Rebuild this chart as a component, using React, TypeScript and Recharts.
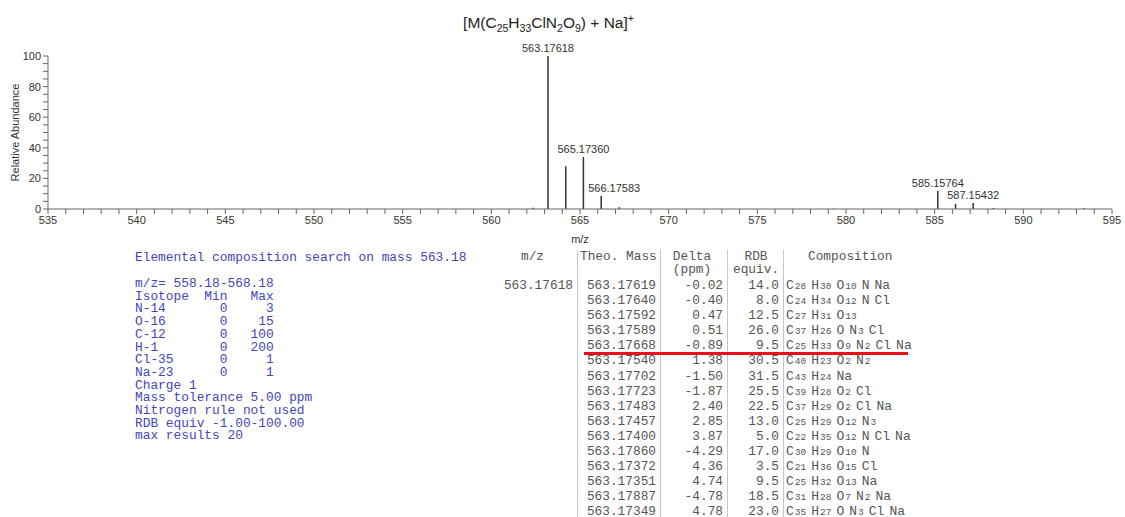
import React from "react";
import { BarChart, Bar, XAxis, YAxis, LabelList } from "recharts";

// spectrum peaks
const peakMz = [562.34, 563.17618, 564.179, 565.1736, 566.17583, 567.2, 579.3, 585.15764, 586.16, 587.15432, 588.3, 593.4];
const peakAbundance = [0.8, 100, 28, 34, 8.5, 1.2, 0.4, 12, 3.3, 4, 0.7, 0.5];
const peakLabels = ["", "563.17618", "", "565.17360", "566.17583", "", "", "585.15764", "", "587.15432", "", ""];

const xLabelTicks = [535, 540, 545, 550, 555, 560, 565, 570, 575, 580, 585, 590, 595];
const yLabelTicks = [0, 20, 40, 60, 80, 100];

// search parameters (left block)
const searchLines = [
  "m/z= 558.18-568.18",
  "Isotope  Min   Max",
  "N-14       0     3",
  "O-16       0    15",
  "C-12       0   100",
  "H-1        0   200",
  "Cl-35      0     1",
  "Na-23      0     1",
  "Charge 1",
  "Mass tolerance 5.00 ppm",
  "Nitrogen rule not used",
  "RDB equiv -1.00-100.00",
  "max results 20",
];

// candidate table
const theoMass = [
  "563.17619", "563.17640", "563.17592", "563.17589", "563.17668", "563.17540", "563.17702", "563.17723",
  "563.17483", "563.17457", "563.17400", "563.17860", "563.17372", "563.17351", "563.17887", "563.17349",
];
const deltaPpm = [
  "-0.02", "-0.40", "0.47", "0.51", "-0.89", "1.38", "-1.50", "-1.87",
  "2.40", "2.85", "3.87", "-4.29", "4.36", "4.74", "-4.78", "4.78",
];
const rdbEquiv = [
  "14.0", "8.0", "12.5", "26.0", "9.5", "30.5", "31.5", "25.5",
  "22.5", "13.0", "5.0", "17.0", "3.5", "9.5", "18.5", "23.0",
];
const compositions = [
  "C28 H30 O10 N Na", "C24 H34 O12 N Cl", "C27 H31 O13", "C37 H26 O N3 Cl",
  "C25 H33 O9 N2 Cl Na", "C40 H23 O2 N2", "C43 H24 Na", "C39 H28 O2 Cl",
  "C37 H29 O2 Cl Na", "C25 H29 O12 N3", "C22 H35 O12 N Cl Na", "C30 H29 O10 N",
  "C21 H36 O15 Cl", "C25 H32 O13 Na", "C31 H28 O7 N2 Na", "C35 H27 O N3 Cl Na",
];
const selectedRow = 4;

const chartData = peakMz.map((mz, i) => ({ mz, abundance: peakAbundance[i], label: peakLabels[i] }));
const xMinorTicks = Array.from({ length: 61 }, (_, i) => 535 + i);
const yMinorTicks = Array.from({ length: 21 }, (_, i) => i * 5);

const labelNudge: Record<string, number> = { "566.17583": 13 };

const mono = "'Liberation Mono', 'Courier New', monospace";
const sans = "'Liberation Sans', Arial, sans-serif";
const tableColor = "#555";
const rowH = 15.1;

const PeakLabel = (props: any) => {
  const { x, y, width, value } = props;
  if (!value) return null;
  return (
    <text x={x + width / 2 + (labelNudge[value] || 0)} y={y - 4} textAnchor="middle" fontSize={11} fill="#333" fontFamily={sans}>
      {value}
    </text>
  );
};

const Formula = ({ text }: { text: string }) => (
  <span>
    {text.split(" ").map((part, i) => {
      const m = part.match(/^([A-Za-z]+)(\d*)$/);
      const el = m ? m[1] : part;
      const n = m ? m[2] : "";
      return (
        <span key={i} style={{ marginRight: 5 }}>
          <span style={{ fontSize: 13 }}>{el}</span>
          {n && <span style={{ fontSize: 9.5, marginLeft: 1 }}>{n}</span>}
        </span>
      );
    })}
  </span>
);

const Column = ({ left, width, lines, align = "right" }: any) => (
  <div
    style={{
      position: "absolute",
      left,
      top: 278,
      width,
      textAlign: align,
      whiteSpace: "pre",
      lineHeight: `${rowH}px`,
      fontFamily: mono,
      fontSize: 12.8,
      color: tableColor,
    }}
  >
    {lines.map((l: any, i: number) => (
      <div key={i} style={{ height: rowH }}>{l}</div>
    ))}
  </div>
);

export default function App() {
  return (
    <div style={{ position: "absolute", left: 0, top: 0, width: 1125, height: 517, background: "#fff", overflow: "hidden" }}>
      <div
        style={{
          position: "absolute",
          left: 0,
          width: 1097,
          top: 12,
          textAlign: "center",
          fontFamily: sans,
          fontSize: 15.5,
          color: "#222",
        }}
      >
        [M(C<sub style={{ fontSize: 10.5 }}>25</sub>H<sub style={{ fontSize: 10.5 }}>33</sub>ClN<sub style={{ fontSize: 10.5 }}>2</sub>O
        <sub style={{ fontSize: 10.5 }}>9</sub>) + Na]<sup style={{ fontSize: 10.5 }}>+</sup>
      </div>

      <div style={{ position: "absolute", left: 0, top: 0 }}>
        <BarChart width={1125} height={245} data={chartData} margin={{ top: 56, right: 13, left: 0, bottom: 0 }}>
          <XAxis
            dataKey="mz"
            type="number"
            domain={[535, 595]}
            ticks={xMinorTicks}
            interval={0}
            tickFormatter={(v: number) => (xLabelTicks.includes(v) ? String(v) : "")}
            tickSize={5}
            tickMargin={2}
            height={36}
            stroke="#666"
            tick={{ fill: "#333", fontSize: 11, fontFamily: sans }}
            allowDataOverflow
            label={{ value: "m/z", position: "insideBottom", offset: 2, fill: "#333", fontSize: 11, fontFamily: sans }}
          />
          <YAxis
            type="number"
            domain={[0, 100]}
            ticks={yMinorTicks}
            interval={0}
            tickFormatter={(v: number) => (yLabelTicks.includes(v) ? String(v) : "")}
            tickSize={5}
            tickMargin={2}
            width={48}
            stroke="#666"
            tick={{ fill: "#333", fontSize: 11, fontFamily: sans }}
            label={{
              value: "Relative Abundance",
              angle: -90,
              position: "insideLeft",
              offset: 15,
              style: { textAnchor: "middle" },
              fill: "#333",
              fontSize: 11,
              fontFamily: sans,
            }}
          />
          <Bar dataKey="abundance" fill="#333" barSize={1.5} isAnimationActive={false}>
            <LabelList dataKey="label" content={PeakLabel} />
          </Bar>
        </BarChart>
      </div>

      {/* search parameters */}
      <div
        style={{
          position: "absolute",
          left: 135,
          top: 252,
          fontFamily: mono,
          fontSize: 12.85,
          color: "#4545bb",
          whiteSpace: "pre",
          lineHeight: "12.7px",
        }}
      >
        <div style={{ height: 26 }}>Elemental composition search on mass 563.18</div>
        {searchLines.map((l, i) => (
          <div key={i}>{l}</div>
        ))}
      </div>

      {/* table header */}
      <div style={{ position: "absolute", top: 251, fontFamily: mono, fontSize: 12.8, color: tableColor, lineHeight: "12.6px", whiteSpace: "pre" }}>
        <div style={{ position: "absolute", left: 521 }}>m/z</div>
        <div style={{ position: "absolute", left: 580 }}>Theo. Mass</div>
        <div style={{ position: "absolute", left: 667, width: 50, textAlign: "center" }}>Delta{"\n"}(ppm)</div>
        <div style={{ position: "absolute", left: 733, width: 46, textAlign: "center" }}>RDB{"\n"}equiv.</div>
        <div style={{ position: "absolute", left: 808 }}>Composition</div>
      </div>

      {/* dividers */}
      {[577, 660, 727, 783].map((x) => (
        <div key={x} style={{ position: "absolute", left: x, top: 250, width: 1, height: 267, background: "#c4c4dc" }} />
      ))}

      <Column left={490} width={83} lines={["563.17618"]} />
      <Column left={570} width={86} lines={theoMass} />
      <Column left={662} width={61} lines={deltaPpm} />
      <Column left={729} width={50} lines={rdbEquiv} />
      <div style={{ position: "absolute", left: 786, top: 278, lineHeight: `${rowH}px`, fontFamily: mono, color: tableColor, whiteSpace: "pre" }}>
        {compositions.map((c, i) => (
          <div key={i} style={{ height: rowH }}>
            <Formula text={c} />
          </div>
        ))}
      </div>

      <div
        style={{
          position: "absolute",
          left: 584,
          top: 278 + rowH * (selectedRow + 1) - 1.5,
          width: 324,
          height: 2.5,
          background: "#e8101a",
        }}
      />
    </div>
  );
}
